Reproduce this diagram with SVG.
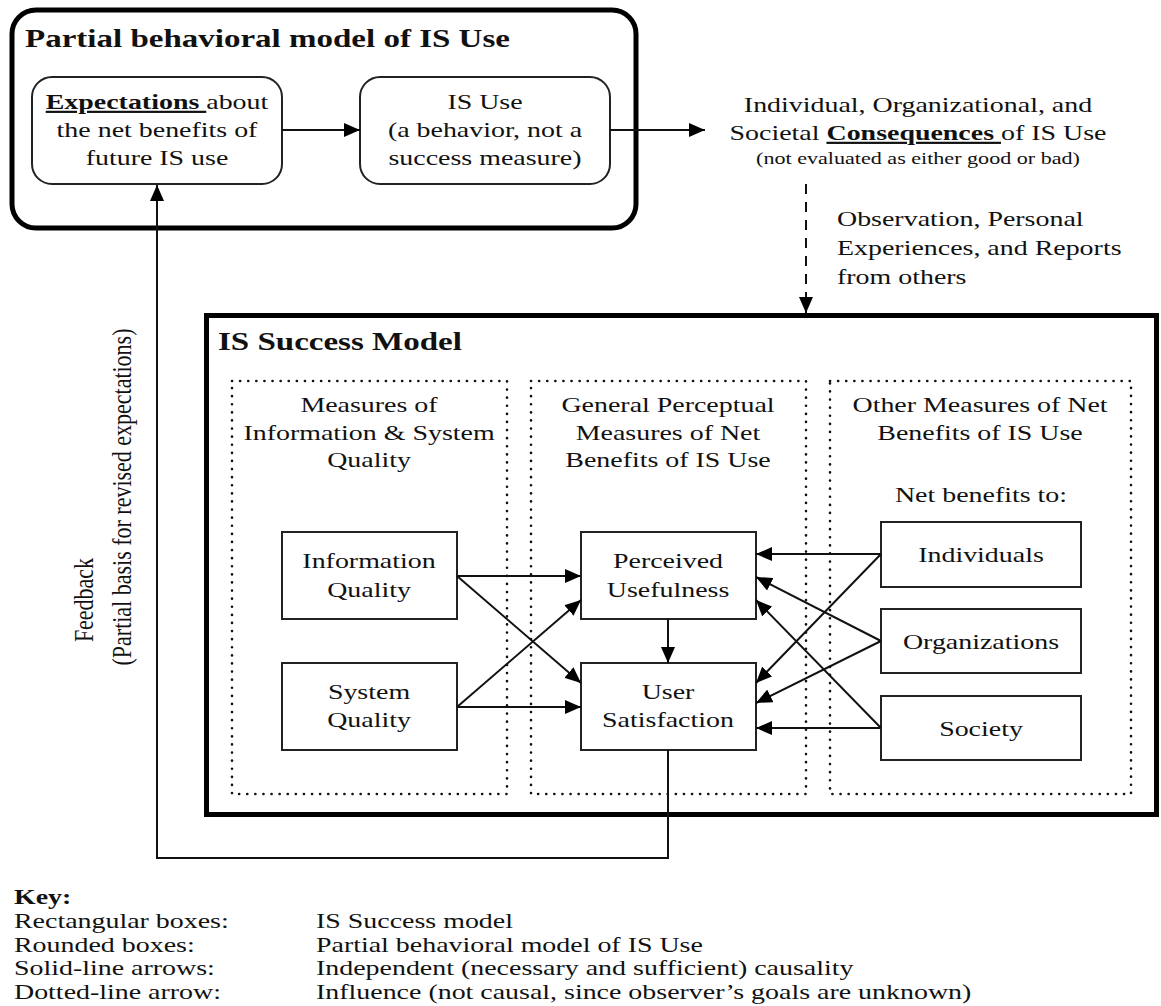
<svg xmlns="http://www.w3.org/2000/svg" width="1161" height="1006" viewBox="0 0 1161 1006">
  <style>
    text { font-family: "Liberation Serif", "Times New Roman", serif; fill: #111; }
    .c { font-size: 22px; text-anchor: middle; }
    .l { font-size: 22px; text-anchor: start; }
    .title { font-size: 26px; font-weight: bold; text-anchor: start; }
    .small { font-size: 17px; text-anchor: middle; }
    .b { font-weight: bold; text-decoration: underline; }
    .box { fill: #fff; stroke: #222; stroke-width: 2; }
    .frame { fill: none; stroke: #000; stroke-width: 5; }
    .dots { fill: none; stroke: #111; stroke-width: 2.6; stroke-dasharray: 0.1 8; stroke-linecap: round; }
    .link { fill: none; stroke: #111; stroke-width: 2; }
  </style>
  <defs>
    <marker id="arrow" viewBox="0 0 16 14" refX="16" refY="7" markerWidth="16" markerHeight="14" markerUnits="userSpaceOnUse" orient="auto">
      <path d="M0,0 L16,7 L0,14 Z" fill="#000"/>
    </marker>
  </defs>

  <!-- Partial behavioral model frame -->
  <g id="behavioral-model">
    <rect class="frame" x="12" y="10" width="624" height="218" rx="24"/>
    <text class="title" transform="translate(25,47) scale(1.27,1)">Partial behavioral model of IS Use</text>
  </g>

  <g id="expectations">
    <rect class="box" x="32" y="77" width="250" height="107" rx="20"/>
    <text class="c" transform="translate(157,109) scale(1.27,1)"><tspan class="b">Expectations </tspan>about</text>
    <text class="c" transform="translate(157,137) scale(1.27,1)">the net benefits of</text>
    <text class="c" transform="translate(157,165) scale(1.27,1)">future IS use</text>
  </g>

  <g id="is-use">
    <rect class="box" x="360" y="77" width="250" height="107" rx="20"/>
    <text class="c" transform="translate(485,109) scale(1.27,1)">IS Use</text>
    <text class="c" transform="translate(485,137) scale(1.27,1)">(a behavior, not a</text>
    <text class="c" transform="translate(485,165) scale(1.27,1)">success measure)</text>
  </g>

  <g id="consequences">
    <text class="c" transform="translate(918,112) scale(1.27,1)">Individual, Organizational, and</text>
    <text class="c" transform="translate(918,140) scale(1.27,1)">Societal <tspan class="b">Consequences </tspan>of IS Use</text>
    <text class="small" transform="translate(918,164) scale(1.3,1)">(not evaluated as either good or bad)</text>
  </g>

  <g id="observation-label">
    <text class="l" transform="translate(837,226) scale(1.27,1)">Observation, Personal</text>
    <text class="l" transform="translate(837,255) scale(1.27,1)">Experiences, and Reports</text>
    <text class="l" transform="translate(837,284) scale(1.27,1)">from others</text>
  </g>

  <!-- IS Success Model frame -->
  <g id="success-model">
    <rect class="frame" x="206.5" y="315.5" width="950" height="499"/>
    <text class="title" transform="translate(218,350) scale(1.27,1)">IS Success Model</text>
  </g>

  <g id="col-quality">
    <rect class="dots" x="232" y="381" width="275" height="413"/>
    <text class="c" transform="translate(369,412) scale(1.27,1)">Measures of</text>
    <text class="c" transform="translate(369,440) scale(1.27,1)">Information &amp; System</text>
    <text class="c" transform="translate(369,467) scale(1.27,1)">Quality</text>
  </g>
  <g id="col-perceptual">
    <rect class="dots" x="531" y="381" width="275" height="413"/>
    <text class="c" transform="translate(668,412) scale(1.27,1)">General Perceptual</text>
    <text class="c" transform="translate(668,440) scale(1.27,1)">Measures of Net</text>
    <text class="c" transform="translate(668,467) scale(1.27,1)">Benefits of IS Use</text>
  </g>
  <g id="col-other">
    <rect class="dots" x="830" y="381" width="301" height="413"/>
    <text class="c" transform="translate(980,412) scale(1.27,1)">Other Measures of Net</text>
    <text class="c" transform="translate(980,440) scale(1.27,1)">Benefits of IS Use</text>
    <text class="c" transform="translate(981,502) scale(1.27,1)">Net benefits to:</text>
  </g>

  <g id="information-quality">
    <rect class="box" x="282" y="532" width="175" height="87"/>
    <text class="c" transform="translate(369,568) scale(1.27,1)">Information</text>
    <text class="c" transform="translate(369,597) scale(1.27,1)">Quality</text>
  </g>
  <g id="system-quality">
    <rect class="box" x="282" y="663" width="175" height="87"/>
    <text class="c" transform="translate(369,699) scale(1.27,1)">System</text>
    <text class="c" transform="translate(369,727) scale(1.27,1)">Quality</text>
  </g>
  <g id="perceived-usefulness">
    <rect class="box" x="581" y="532" width="175" height="87"/>
    <text class="c" transform="translate(668,568) scale(1.27,1)">Perceived</text>
    <text class="c" transform="translate(668,597) scale(1.27,1)">Usefulness</text>
  </g>
  <g id="user-satisfaction">
    <rect class="box" x="581" y="663" width="175" height="87"/>
    <text class="c" transform="translate(668,699) scale(1.27,1)">User</text>
    <text class="c" transform="translate(668,727) scale(1.27,1)">Satisfaction</text>
  </g>
  <g id="individuals">
    <rect class="box" x="881" y="522" width="200" height="65"/>
    <text class="c" transform="translate(981,562) scale(1.27,1)">Individuals</text>
  </g>
  <g id="organizations">
    <rect class="box" x="881" y="609" width="200" height="64"/>
    <text class="c" transform="translate(981,649) scale(1.27,1)">Organizations</text>
  </g>
  <g id="society">
    <rect class="box" x="881" y="696" width="200" height="64"/>
    <text class="c" transform="translate(981,736) scale(1.27,1)">Society</text>
  </g>

  <!-- Feedback label, read bottom to top -->
  <g id="feedback-label">
    <text class="c" transform="translate(93,600) rotate(-90) scale(1,1.27)">Feedback</text>
    <text class="c" transform="translate(131,497) rotate(-90) scale(1,1.27)">(Partial basis for revised expectations)</text>
  </g>

  <g id="connectors">
    <line class="link" x1="282" y1="130" x2="360" y2="130" marker-end="url(#arrow)"/>
    <line class="link" x1="610" y1="130" x2="705" y2="130" marker-end="url(#arrow)"/>
    <line class="link" x1="806" y1="184" x2="806" y2="313" stroke-dasharray="10 8" marker-end="url(#arrow)"/>
    <line class="link" x1="457" y1="576" x2="581" y2="576" marker-end="url(#arrow)"/>
    <line class="link" x1="457" y1="576" x2="581" y2="683" marker-end="url(#arrow)"/>
    <line class="link" x1="457" y1="707" x2="581" y2="600" marker-end="url(#arrow)"/>
    <line class="link" x1="457" y1="707" x2="581" y2="707" marker-end="url(#arrow)"/>
    <line class="link" x1="668" y1="619" x2="668" y2="663" marker-end="url(#arrow)"/>
    <line class="link" x1="881" y1="554" x2="756" y2="554" marker-end="url(#arrow)"/>
    <line class="link" x1="881" y1="554" x2="756" y2="683" marker-end="url(#arrow)"/>
    <line class="link" x1="881" y1="641" x2="756" y2="577" marker-end="url(#arrow)"/>
    <line class="link" x1="881" y1="641" x2="756" y2="703" marker-end="url(#arrow)"/>
    <line class="link" x1="881" y1="728" x2="756" y2="600" marker-end="url(#arrow)"/>
    <line class="link" x1="881" y1="728" x2="756" y2="728" marker-end="url(#arrow)"/>
    <polyline class="link" points="668,750 668,858 157,858 157,185" marker-end="url(#arrow)"/>
  </g>

  <!-- Key -->
  <g id="key">
    <text class="l" transform="translate(14,904) scale(1.27,1)" font-weight="bold">Key:</text>
    <text class="l" transform="translate(14,928) scale(1.27,1)">Rectangular boxes:</text>
    <text class="l" transform="translate(14,952) scale(1.27,1)">Rounded boxes:</text>
    <text class="l" transform="translate(14,975) scale(1.27,1)">Solid-line arrows:</text>
    <text class="l" transform="translate(14,999) scale(1.27,1)">Dotted-line arrow:</text>
    <text class="l" transform="translate(316,928) scale(1.27,1)">IS Success model</text>
    <text class="l" transform="translate(316,952) scale(1.27,1)">Partial behavioral model of IS Use</text>
    <text class="l" transform="translate(316,975) scale(1.27,1)">Independent (necessary and sufficient) causality</text>
    <text class="l" transform="translate(316,999) scale(1.27,1)">Influence (not causal, since observer’s goals are unknown)</text>
  </g>
</svg>
